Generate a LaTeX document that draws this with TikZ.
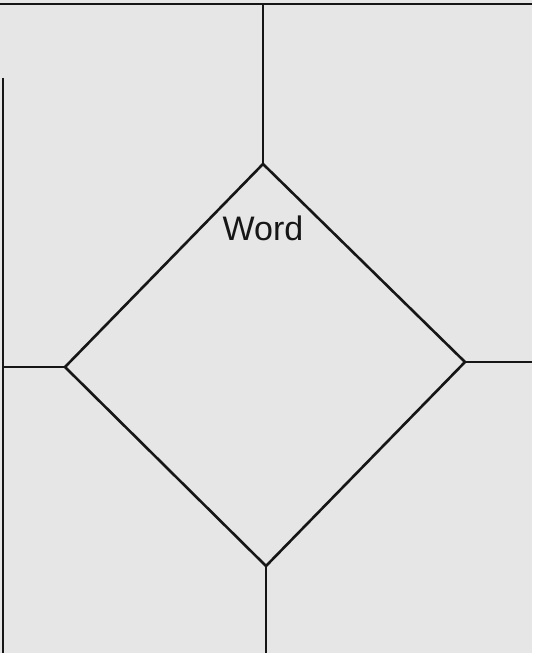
\documentclass[tikz,border=0pt]{standalone}
\usepackage{fontspec}
\setmainfont{Liberation Sans}
\definecolor{paper}{HTML}{E6E6E6}
\definecolor{ink}{HTML}{161616}
\tikzset{frameline/.style={ink, line width=1.3pt}}
\begin{document}
\begin{tikzpicture}[x=0.5pt, y=-0.5pt]
    % grey sheet, also fixes the page size
    \fill[paper] (0,0) rectangle (532,653);
    \useasboundingbox (0,0) rectangle (532,653);

    % corners of the diamond
    \coordinate (top) at (263,164);
    \coordinate (left) at (65,367);
    \coordinate (right) at (465,362);
    \coordinate (bot) at (266,566);

    % free ends of the outer lines
    \coordinate (topL) at (0,4);
    \coordinate (topR) at (532,4);
    \coordinate (topM) at (263,4);
    \coordinate (sideT) at (3,78);
    \coordinate (sideB) at (3,653);
    \coordinate (midL) at (3,367);
    \coordinate (midR) at (532,362);
    \coordinate (botM) at (266,653);

    % frame and dividers
    \draw[frameline] (topL) -- (topR);
    \draw[frameline] (sideT) -- (sideB);
    \draw[frameline] (topM) -- (top);
    \draw[frameline] (midL) -- (left);
    \draw[frameline] (right) -- (midR);
    \draw[frameline] (bot) -- (botM);

    \draw[frameline, line join=miter] (top) -- (right) -- (bot) -- (left) -- cycle;
    \node[font=\fontsize{17}{20}\selectfont, text=ink] (word) at (263,228) {Word};
\end{tikzpicture}
\end{document}
